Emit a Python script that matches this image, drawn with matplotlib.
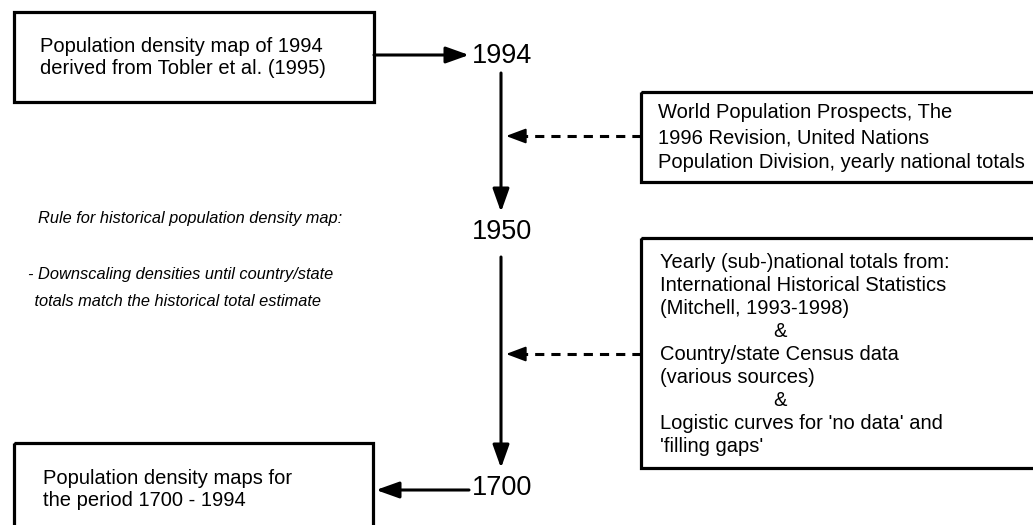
import matplotlib.pyplot as plt
from matplotlib import font_manager
from matplotlib.patches import Rectangle

# texts of the flow chart
years = ["1994", "1950", "1700"]
top_box = ["Population density map of 1994", "derived from Tobler et al. (1995)"]
wpp_box = ["World Population Prospects, The",
           "1996 Revision, United Nations",
           "Population Division, yearly national totals"]
hist_box = ["Yearly (sub-)national totals from:",
            "International Historical Statistics",
            "(Mitchell, 1993-1998)",
            "&",
            "Country/state Census data",
            "(various sources)",
            "&",
            "Logistic curves for 'no data' and",
            "'filling gaps'"]
out_box = ["Population density maps for", "the period 1700 - 1994"]
rule_text = ["Rule for historical population density map:",
             "- Downscaling densities until country/state",
             " totals match the historical total estimate"]

plt.rcParams['font.family'] = ['Liberation Sans', 'DejaVu Sans']
names = {f.name for f in font_manager.fontManager.ttflist}
if 'Liberation Sans Narrow' in names:
    rule_font = ['Liberation Sans Narrow', 'Liberation Sans']
    rule_size = 14
else:
    rule_font = ['Liberation Sans', 'DejaVu Sans']
    rule_size = 11.8

W, H = 1033, 525
fig = plt.figure(figsize=(W / 100, H / 100), dpi=100)
ax = fig.add_axes([0, 0, 1, 1])
ax.set_xlim(0, W)
ax.set_ylim(H, 0)
ax.axis('off')

lw_box = 2.3
lw_arr = 2.2
fs = 14.5


def box(x0, y0, x1, y1):
    ax.add_patch(Rectangle((x0, y0), x1 - x0, y1 - y0, fill=False,
                           lw=lw_box, ec='black', clip_on=False))


def lines(txt, x, y0, step, size=fs, **kw):
    for i, t in enumerate(txt):
        ax.text(x, y0 + i * step, t, fontsize=size, va='center', **kw)


def arrow(x0, y0, x1, y1, lw=lw_arr, hl=1.4, hw=0.5):
    ax.annotate('', xy=(x1, y1), xytext=(x0, y0),
                arrowprops=dict(arrowstyle='-|>,head_length=%s,head_width=%s' % (hl, hw),
                                mutation_scale=10, lw=lw, color='black',
                                shrinkA=0, shrinkB=0))


def dashed_arrow(x0, x1, y):
    ax.plot([x0, x1 + 12], [y, y], color='black', lw=2.2,
            linestyle=(0, (3, 2.3)), solid_capstyle='butt')
    arrow(x1 + 13, y, x1, y, lw=1.5, hl=1.2, hw=0.45)


# boxes
box(14, 12, 374, 102)
box(641, 92, 1045, 182)
box(641, 238, 1045, 468)
box(14, 443, 373, 540)

lines(top_box, 40, 47, 21)
lines(wpp_box, 658, 113, 24.5)
for i, t in enumerate(hist_box):
    if t == "&":
        ax.text(780, 262 + i * 23.1, t, fontsize=fs, va='center', ha='center')
    else:
        ax.text(660, 262 + i * 23.1, t, fontsize=fs, va='center')
lines(out_box, 43, 478, 22)

# year labels
year_y = [56, 232, 488]
for y, t in zip(year_y, years):
    ax.text(502, y, t, fontsize=19.5, ha='center', va='center')

# solid arrows
arrow(374, 55, 469, 55)
arrow(501, 73, 501, 212)
arrow(501, 257, 501, 468)
arrow(469, 490, 376, 490)

# dashed arrows from the source boxes
dashed_arrow(641, 506, 136)
dashed_arrow(641, 506, 354)

# italic rule text
ax.text(38, 219, rule_text[0], fontsize=rule_size, style='italic',
        va='center', family=rule_font)
ax.text(28, 275, rule_text[1], fontsize=rule_size, style='italic',
        va='center', family=rule_font)
ax.text(30, 302, rule_text[2], fontsize=rule_size, style='italic',
        va='center', family=rule_font)

fig.savefig('out.png', dpi=100, facecolor='white')
